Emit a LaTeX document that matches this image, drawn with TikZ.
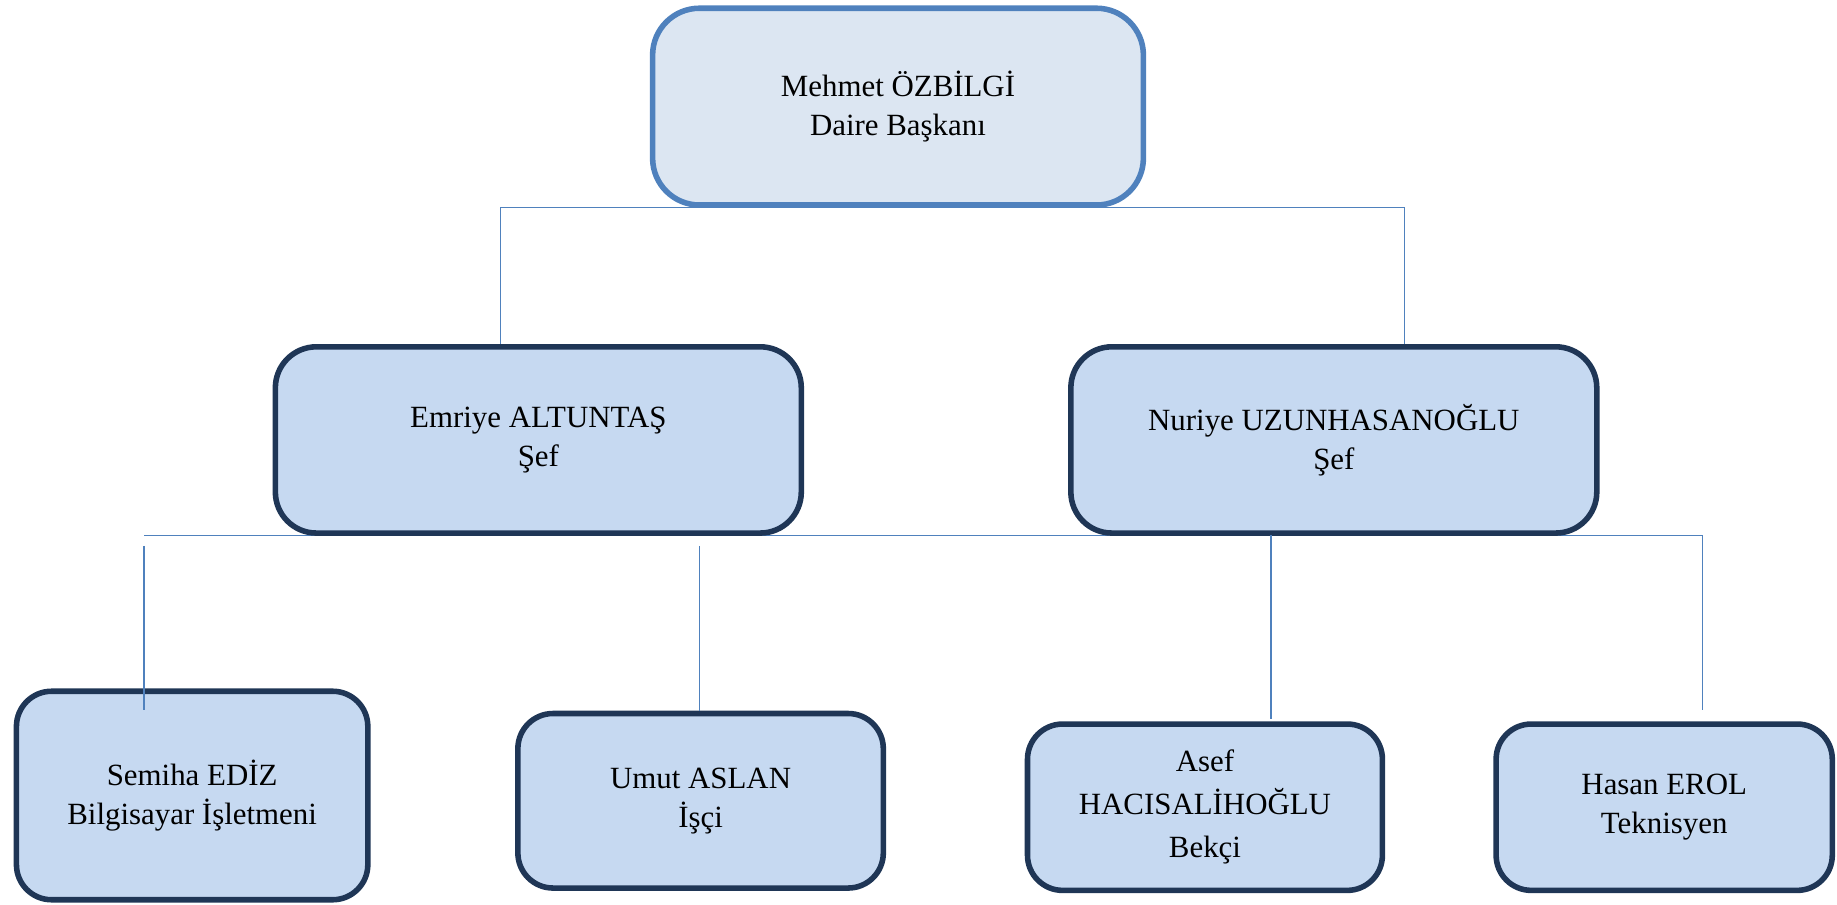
\documentclass[tikz,border=0pt]{standalone}
\usepackage{fontspec}
\setmainfont{Liberation Serif}
\usetikzlibrary{calc,backgrounds}

\definecolor{ofisMavi}{HTML}{4F81BD}
\definecolor{koyuLaci}{HTML}{1F3656}
\definecolor{acikMavi}{HTML}{C6D9F1}
\definecolor{buzMavi}{HTML}{DCE6F2}

\begin{document}
\begin{tikzpicture}[x=0.02cm, y=-0.02cm,
    kutu/.style={draw=koyuLaci, line width=0.095cm, fill=acikMavi,
        rounded corners=0.7cm, align=center, inner sep=0pt,
        font=\fontsize{15}{18.8}\selectfont},
    baskan/.style={kutu, draw=ofisMavi, fill=buzMavi, rounded corners=0.8cm},
    personel/.style={kutu, rounded corners=0.6cm},
    hat/.style={ofisMavi, line width=0.026cm}]
    \useasboundingbox (0,0) rectangle (1568,772);

    % head of department
    \node[baskan, minimum width=8.38cm, minimum height=3.36cm] (daire) at (766.5,91)
        {Mehmet ÖZBİLGİ\\Daire Başkanı};

    % the two chiefs
    \node[kutu, minimum width=8.98cm, minimum height=3.18cm] (emriye) at (459.5,375.5)
        {Emriye ALTUNTAŞ\\Şef};
    \node[kutu, minimum width=8.98cm, minimum height=3.18cm] (nuriye) at (1138.5,375.5)
        {Nuriye UZUNHASANOĞLU\\Şef};

    % staff
    \node[personel, minimum width=6.00cm, minimum height=3.56cm] (semiha) at (164,679)
        {Semiha EDİZ\\Bilgisayar İşletmeni};
    \node[personel, minimum width=6.24cm, minimum height=2.98cm] (umut) at (598,683.5)
        {Umut ASLAN\\İşçi};
    \node[personel, minimum width=6.06cm, minimum height=2.84cm] (asef) at (1028.5,689)
        {Asef\\[2pt]HACISALİHOĞLU\\[2pt]Bekçi};
    \node[personel, minimum width=5.74cm, minimum height=2.84cm] (hasan) at (1420.5,689)
        {Hasan EROL\\Teknisyen};

    % upper bus, behind the boxes
    \coordinate (ustsol) at (427,177);
    \coordinate (ustsag) at (1199,177);
    \begin{scope}[on background layer]
        \draw[hat] (emriye.north -| ustsol) -- (ustsol) -- (ustsag) -- (nuriye.north -| ustsag);
    \end{scope}

    % lower bus
    \coordinate (altsol) at (123,457);
    \coordinate (altsag) at (1453,457);
    \coordinate (asefust) at (1085,457);
    \begin{scope}[on background layer]
        \draw[hat] (altsol) -- (altsag);
    \end{scope}
    \draw[hat] ($(altsol)+(0,9)$) -- ($(semiha.north -| altsol)+(0,18)$);
    \draw[hat] ($(altsol -| umut.north)+(-1,9)$) -- ($(umut.north)+(-1,0)$);
    \draw[hat] (asefust) -- ($(asef.north -| asefust)+(0,-2)$);
    \draw[hat] (altsag) -- ($(hasan.north -| altsag)+(0,-10)$);

\end{tikzpicture}
\end{document}
